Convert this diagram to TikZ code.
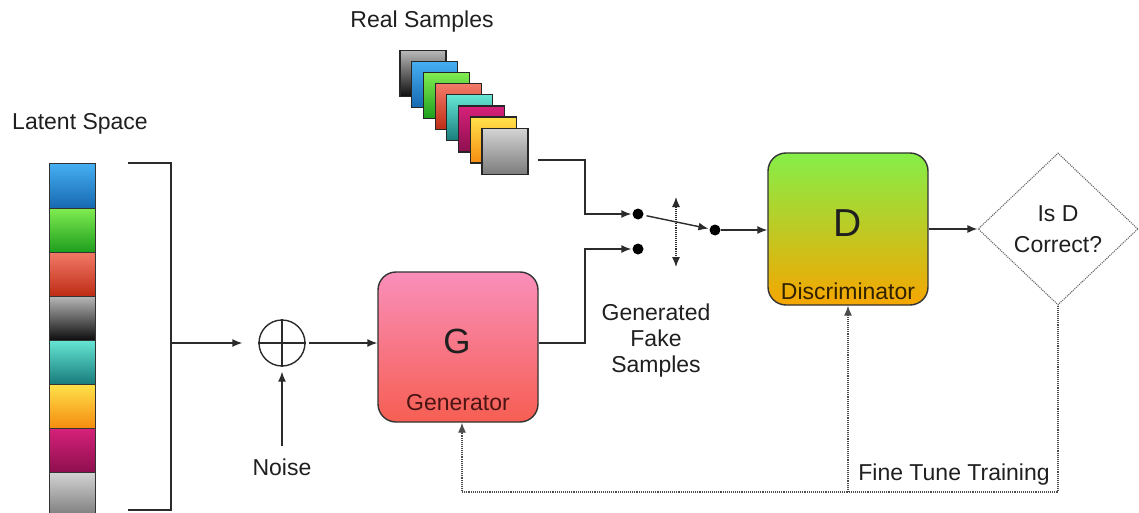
\documentclass[tikz,border=0pt]{standalone}
\usepackage{fontspec}
\setmainfont{Liberation Sans}
\usetikzlibrary{arrows.meta,shapes.geometric,calc}
\definecolor{ln}{HTML}{2B2B2B}
\definecolor{gtext}{HTML}{4A1414}
\definecolor{dtext}{HTML}{302200}
\definecolor{blueT}{HTML}{45AEF2}\definecolor{blueB}{HTML}{1769B0}
\definecolor{greenT}{HTML}{80EC50}\definecolor{greenB}{HTML}{1E9E1E}
\definecolor{redT}{HTML}{F27A68}\definecolor{redB}{HTML}{BE2C14}
\definecolor{blackT}{HTML}{B8B8B8}\definecolor{blackB}{HTML}{0E0E0E}
\definecolor{tealT}{HTML}{66E6D4}\definecolor{tealB}{HTML}{187C7C}
\definecolor{orangeT}{HTML}{FFE24A}\definecolor{orangeB}{HTML}{F58C10}
\definecolor{magT}{HTML}{D6217A}\definecolor{magB}{HTML}{8E0F4E}
\definecolor{grayT}{HTML}{D4D4D4}\definecolor{grayB}{HTML}{7C7C7C}
\definecolor{gT}{HTML}{F98FBA}\definecolor{gB}{HTML}{F65E52}
\definecolor{dT}{HTML}{86EE48}\definecolor{dB}{HTML}{F6A600}
\begin{document}
\begin{tikzpicture}[x=1pt,y=-1pt,
  tip/.tip={Latex[length=10pt,width=8pt]},
  conn/.style={draw=ln, line width=1.4pt, -tip},
  lbl/.style={font=\fontsize{23}{26}\selectfont, text=black!88, align=center, inner sep=0},
  cell/.style={draw=black!80, line width=1pt, minimum width=46pt, minimum height=44pt, inner sep=0},
  sample/.style={draw=black!85, line width=1.2pt, minimum size=46pt, inner sep=0},
  dot/.style={circle, fill=black, inner sep=0, minimum size=11pt},
  fb/.style={draw=black!70, densely dotted, line width=1.1pt},
  blk/.style={draw=black!80, line width=1.4pt, rounded corners=18pt, minimum width=160pt, inner sep=0},
]
\useasboundingbox (0,0) rectangle (1139,513);

% Latent space column
\node[lbl] (latent) at (80,124) {Latent Space};
\foreach \c [count=\i from 0] in {blue,green,red,black,teal,orange,mag,gray}{
  \node[cell, top color=\c T, bottom color=\c B] (l\i) at (72,186+44*\i) {};
}
% Real samples stack
\node[lbl] (real) at (422,22) {Real Samples};
\foreach \c [count=\i from 0] in {black,blue,green,red,teal,mag,orange,gray}{
  \node[sample, top color=\c T, bottom color=\c B] (s\i) at (423+11.7*\i,73.5+11.1*\i) {};
}

% bracket
\coordinate (bt) at (128,163);
\coordinate (btr) at (171,163);
\coordinate (bbr) at (171,510);
\coordinate (bb) at (128,510);
\coordinate (brk) at (171,343);
\draw[ln, line width=1.4pt] (bt) -- (btr) -- (bbr) -- (bb);

% sum
\node[circle, draw=ln, line width=1.4pt, minimum size=46pt, inner sep=0] (sum) at (282,343) {};
\draw[ln, line width=1.4pt] (sum.north) -- (sum.south) (sum.west) -- (sum.east);
\draw[conn, shorten >=16pt] (brk) -- (sum.west);

\node[lbl] (noise) at (282,467) {Noise};
\draw[conn, shorten <=12pt, shorten >=5pt] (noise.north) -- (sum.south);

% Generator
\node[blk, minimum height=150pt, top color=gT, bottom color=gB] (G) at (458,347) {};
\node[font=\fontsize{35}{35}\selectfont, text=black!88, inner sep=0] (Gl) at (457,341) {G};
\node[lbl, text=gtext] (Gn) at (458,403) {Generator};
\draw[conn, shorten <=3pt] (sum.east) -- (G.west |- sum.east);

% Discriminator
\node[blk, minimum height=152pt, top color=dT, bottom color=dB] (D) at (848,229) {};
\node[font=\fontsize{39}{39}\selectfont, text=black!88, inner sep=0] (Dl) at (848,223) {D};
\node[lbl, text=dtext] (Dn) at (848,291) {Discriminator};

% switch
\node[dot] (dA) at (638,214) {};
\node[dot] (dB) at (638,249) {};
\node[dot] (dC) at (715,230) {};
\coordinate (c1) at (585,214);
\coordinate (c2) at (585,249);
\draw[conn, shorten >=1pt] ([xshift=9pt,yshift=-9pt]s7.east) -| (c1) -- (dA);
\draw[conn, shorten >=1pt] ([yshift=4pt]G.east) -| (c2) -- (dB);
\draw[conn, shorten <=3pt, shorten >=1pt] (dA) -- (dC);
\coordinate (sw1) at (676,197);
\coordinate (sw2) at (676,267);
\draw[ln, densely dotted, line width=1.1pt, tip-tip] (sw1) -- (sw2);
\draw[conn] (dC) -- (D.west |- dC);

\node[lbl] (fake) at (656,341) {Generated\\Fake\\Samples};

% decision
\node[diamond, draw=black!60, densely dotted, line width=1.1pt, minimum width=160pt, minimum height=152pt, inner sep=0, aspect=1.05, align=center, font=\fontsize{23}{31}\selectfont, text=black!88] (Q) at (1058,229) {Is D\\Correct?};
\draw[conn] (D.east) -- (Q.west);

% feedback
\coordinate (fr) at (1058,492);
\coordinate (fl) at (462,492);
\coordinate (fd) at (848,492);
\draw[fb, -tip] (Q.south) -- (fr) -- (fl) -- (fl |- G.south);
\draw[fb, -tip] (fd) -- (D.south);
\node[lbl] (ft) at (954,475) {Fine Tune Training};
\end{tikzpicture}
\end{document}
